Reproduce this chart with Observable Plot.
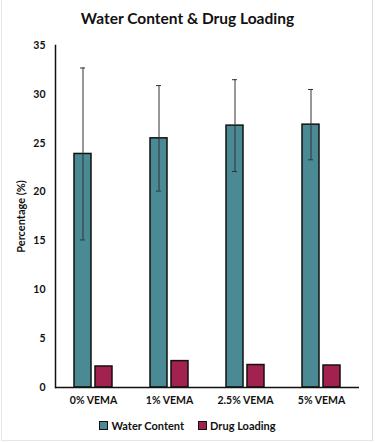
<!DOCTYPE html>
<html>
<head>
<meta charset="utf-8">
<script src="https://cdn.jsdelivr.net/npm/d3@7"></script>
<script src="https://cdn.jsdelivr.net/npm/@observablehq/plot@0.6"></script>
<style>
  html, body { margin: 0; padding: 0; background: #fff; }
  body { width: 375px; height: 443px; position: relative; overflow: hidden; font-family: Lato, "Open Sans", sans-serif; }
  #title { height: 35px; line-height: 36px; text-align: center; font-weight: bold; font-size: 15.5px; color: #111; }
  #legend { display: flex; justify-content: center; align-items: center; gap: 14px; font-weight: bold; font-size: 11px; color: #111; margin-top: 4px; }
  #legend .item { display: flex; align-items: center; gap: 3px; }
  #legend .sw { width: 7px; height: 7px; border: 1px solid #111; display: inline-block; }
  #border { position: absolute; left: 1px; top: 0; width: 370px; height: 440px; border-left: 1px solid #e6e6e6; border-right: 1px solid #dcdcdc; border-bottom: 1px solid #e6e6e6; pointer-events: none; }
  svg [aria-label="y-axis label"] text { font-size: 11px; }
</style>
</head>
<body>
<div id="title">Water Content &amp; Drug Loading</div>
<div id="chart"></div>
<div id="legend"></div>
<div id="border"></div>
<script>
const groups = ["0% VEMA", "1% VEMA", "2.5% VEMA", "5% VEMA"];
const series = ["Water Content", "Drug Loading"];
const waterContent = [23.9, 25.5, 26.8, 26.9];
const waterError = [8.8, 5.4, 4.7, 3.6];
const drugLoading = [2.15, 2.7, 2.3, 2.25];
const yTicks = [0, 5, 10, 15, 20, 25, 30, 35];
const colors = ["#4a8a95", "#a3214e"];

const rows = [];
groups.forEach((g, i) => {
  rows.push({group: g, series: series[0], value: waterContent[i]});
  rows.push({group: g, series: series[1], value: drugLoading[i]});
});
const errRows = groups.map((g, i) => ({
  group: g, series: series[0],
  lo: waterContent[i] - waterError[i],
  hi: waterContent[i] + waterError[i]
}));

const chart = Plot.plot({
  width: 375,
  height: 380,
  marginLeft: 54,
  marginRight: 15,
  marginTop: 10,
  marginBottom: 28,
  style: {fontFamily: "Lato, 'Open Sans', sans-serif", fontWeight: "bold", fontSize: "10.5px", color: "#111"},
  fx: {domain: groups, padding: 0, label: null, tickSize: 0, tickPadding: 9},
  x: {domain: series, paddingInner: 0.185, paddingOuter: 0.866, axis: null},
  y: {domain: [0, 35], ticks: yTicks, tickSize: 0, tickPadding: 10, label: "Percentage (%)", labelArrow: "none", labelAnchor: "center", labelOffset: 38},
  color: {domain: series, range: colors},
  marks: [
    Plot.barY(rows, {fx: "group", x: "series", y: "value", fill: "series", stroke: "#111", strokeWidth: 1.5}),
    Plot.ruleX(errRows, {fx: "group", x: "series", y1: "lo", y2: "hi", stroke: "#333", strokeWidth: 1}),
    Plot.tickY(errRows, {fx: "group", x: "series", y: "hi", stroke: "#333", strokeWidth: 1, insetLeft: 6, insetRight: 6}),
    Plot.tickY(errRows, {fx: "group", x: "series", y: "lo", stroke: "#333", strokeWidth: 1, insetLeft: 6, insetRight: 6}),
    Plot.ruleY([0], {stroke: "#111", strokeWidth: 1.5}),
    Plot.frame({anchor: "left", facetAnchor: "left", stroke: "#111", strokeWidth: 1.5})
  ]
});
document.getElementById("chart").appendChild(chart);

const legend = document.getElementById("legend");
series.forEach((s, i) => {
  const item = document.createElement("span");
  item.className = "item";
  const sw = document.createElement("span");
  sw.className = "sw";
  sw.style.background = colors[i];
  item.appendChild(sw);
  item.appendChild(document.createTextNode(s));
  legend.appendChild(item);
});
</script>
</body>
</html>
